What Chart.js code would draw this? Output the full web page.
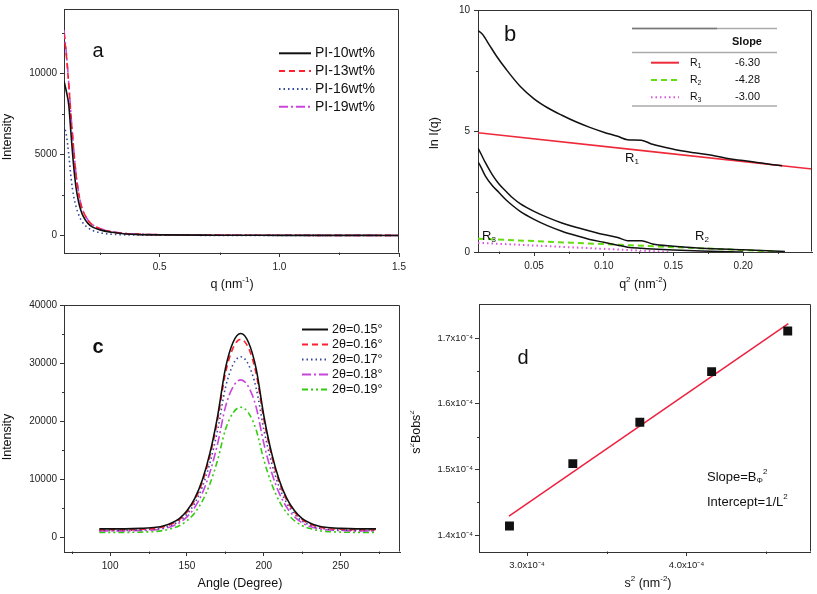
<!DOCTYPE html>
<html>
<head>
<meta charset="utf-8">
<script src="https://cdn.jsdelivr.net/npm/chart.js@4.4.1/dist/chart.umd.min.js"></script>
<style>
  html, body { margin: 0; padding: 0; background: #fff; }
  #fig { position: relative; width: 817px; height: 594px; overflow: hidden; background: #fff; }
  #fig canvas { position: absolute; }
</style>
</head>
<body>
<div id="fig">
  <canvas id="pa" width="410" height="296" style="left:0;top:0"></canvas>
  <canvas id="pb" width="407" height="296" style="left:410px;top:0"></canvas>
  <canvas id="pc" width="410" height="304" style="left:0;top:290px"></canvas>
  <canvas id="pd" width="407" height="304" style="left:410px;top:290px"></canvas>
</div>
<script>
// ═══════════════════════════════════════════════════════════
// Data
// ═══════════════════════════════════════════════════════════

// (a) scattering intensity vs q
const qA   = [0.10, 0.11, 0.12, 0.13, 0.14, 0.15, 0.16, 0.17, 0.18, 0.20, 0.22, 0.25, 0.30, 0.35, 0.40, 0.50, 0.75, 1.00, 1.25, 1.50];
const pi10 = [9550, 8900, 8050, 6150, 4350, 3000, 2150, 1580, 1200, 750, 520, 350, 200, 110, 70, 40, 20, 12, 8, 5];
const pi13 = [12500, 11100, 9300, 7200, 5400, 3800, 2750, 1950, 1500, 950, 650, 420, 230, 130, 85, 50, 25, 15, 10, 6];
const pi16 = [6800, 6200, 5000, 3500, 2450, 1800, 1340, 1000, 760, 480, 310, 170, 80, 45, 30, 20, 10, 8, 5, 3];
const pi19 = [12700, 11250, 9400, 7300, 5450, 3850, 2780, 1980, 1520, 960, 660, 430, 240, 135, 90, 50, 25, 15, 10, 6];
const namesA = ['PI-10wt%', 'PI-13wt%', 'PI-16wt%', 'PI-19wt%'];

// (b) Guinier plot ln I(q) vs q^2
const q2Top = [0.0098, 0.013, 0.018, 0.023, 0.03, 0.04, 0.05, 0.06, 0.07, 0.08, 0.09, 0.10, 0.11, 0.117, 0.127, 0.135, 0.15, 0.165, 0.18, 0.19, 0.20, 0.21, 0.22, 0.228];
const lnTop = [9.15, 9.0, 8.55, 8.1, 7.55, 6.85, 6.33, 5.95, 5.65, 5.38, 5.15, 4.95, 4.78, 4.64, 4.62, 4.45, 4.25, 4.1, 3.97, 3.85, 3.78, 3.7, 3.62, 3.56];
const q2Mid = [0.0098, 0.012, 0.015, 0.02, 0.025, 0.03, 0.035, 0.04, 0.05, 0.06, 0.07, 0.08, 0.09, 0.10, 0.11, 0.117, 0.127, 0.135, 0.15, 0.17, 0.20, 0.23];
const lnMid = [4.29, 4.05, 3.7, 3.2, 2.8, 2.5, 2.22, 2.0, 1.68, 1.42, 1.2, 1.02, 0.87, 0.72, 0.6, 0.47, 0.47, 0.33, 0.24, 0.16, 0.09, 0.02];
const q2Low = [0.0098, 0.012, 0.015, 0.02, 0.025, 0.03, 0.035, 0.04, 0.05, 0.06, 0.07, 0.08, 0.09, 0.10, 0.11, 0.117, 0.127, 0.135, 0.15, 0.17, 0.19, 0.20];
const lnLow = [3.72, 3.5, 3.15, 2.75, 2.45, 2.15, 1.9, 1.68, 1.35, 1.08, 0.86, 0.68, 0.52, 0.4, 0.28, 0.2, 0.15, 0.12, 0.08, 0.04, 0.01, 0];
const fitR1x = [0.0098, 0.2494], fitR1y = [4.93, 3.43];
const fitR2x = [0.0098, 0.231],  fitR2y = [0.55, 0.0];
const fitR3x = [0.0098, 0.147],  fitR3y = [0.38, 0.0];
const slopes = ['-6.30', '-4.28', '-3.00'];

// (c) azimuthal intensity profiles
const angleC = [93, 110, 120, 130, 135, 140, 145, 150, 155, 160, 165, 170, 175, 180, 185, 190, 195, 200, 205, 210, 215, 220, 225, 230, 235, 240, 250, 260, 273];
const th15 = [1450, 1450, 1530, 1720, 1990, 2460, 3230, 4580, 6670, 9860, 14570, 20970, 29040, 33590, 35100, 33590, 29040, 20970, 14570, 9860, 6670, 4580, 3230, 2460, 1990, 1720, 1530, 1450, 1450];
const th16 = [1300, 1300, 1380, 1560, 1830, 2280, 3040, 4350, 6380, 9500, 14090, 20320, 28200, 32620, 34100, 32620, 28200, 20320, 14090, 9500, 6380, 4350, 3040, 2280, 1830, 1560, 1380, 1300, 1300];
const th17 = [1200, 1200, 1280, 1440, 1680, 2100, 2780, 3980, 5830, 8680, 12860, 18540, 25720, 29750, 31100, 29750, 25720, 18540, 12860, 8680, 5830, 3980, 2780, 2100, 1680, 1440, 1280, 1200, 1200];
const th18 = [1100, 1100, 1170, 1310, 1520, 1880, 2480, 3520, 5130, 7600, 11240, 16180, 22420, 25930, 27100, 25930, 22420, 16180, 11240, 7600, 5130, 3520, 2480, 1880, 1520, 1310, 1170, 1100, 1100];
const th19 = [850, 850, 900, 1020, 1200, 1500, 1990, 2850, 4190, 6240, 9250, 13350, 18520, 21430, 22400, 21430, 18520, 13350, 9250, 6240, 4190, 2850, 1990, 1500, 1200, 1020, 900, 850, 850];
const namesC = ['2θ=0.15°', '2θ=0.16°', '2θ=0.17°', '2θ=0.18°', '2θ=0.19°'];

// (d) Williamson-Hall style fit
const s2   = [2.89e-4, 3.287e-4, 3.707e-4, 4.157e-4, 4.634e-4];
const s2B  = [1.414e-4, 1.509e-4, 1.572e-4, 1.649e-4, 1.711e-4];
const fitDx = [2.887e-4, 4.638e-4], fitDy = [1.429e-4, 1.722e-4];

// ═══════════════════════════════════════════════════════════
// Helpers
// ═══════════════════════════════════════════════════════════
const FAM = '"Liberation Sans", Arial, Helvetica, sans-serif';
const INK = '#333';

const DASH  = [6, 4];
const DOT   = [1.5, 3];
const DDOT  = [9, 3, 2, 3];
const DDDOT = [6, 3, 2, 3, 2, 3];

function series(xs, ys, color, dash, width) {
  return {
    data: xs.map((x, i) => ({ x, y: ys[i] })),
    borderColor: color, backgroundColor: color,
    borderDash: dash || [], borderWidth: width || 1.5,
    pointRadius: 0, fill: false, cubicInterpolationMode: 'monotone'
  };
}

function axis(min, max, majors, fmt, size, pad) {
  return {
    type: 'linear', min, max,
    afterBuildTicks: s => { s.ticks = majors.map(v => ({ value: v })); },
    grid: { drawOnChartArea: false, tickLength: 4, color: INK, tickColor: INK, tickWidth: 1 },
    border: { color: INK, width: 1 },
    ticks: { autoSkip: false, maxRotation: 0, color: '#222', padding: pad, font: { family: FAM, size: size || 10 }, callback: fmt }
  };
}

// text with super/subscripts: parts are strings or [text, 1 (sup) | -1 (sub)]
function rich(ctx, parts, x, y, size, o = {}) {
  ctx.save();
  ctx.translate(x, y);
  if (o.rot) ctx.rotate(o.rot);
  ctx.fillStyle = o.color || '#111';
  ctx.textBaseline = 'middle';
  ctx.textAlign = 'left';
  const wt = o.bold ? 'bold ' : '';
  const bits = parts.map(p => typeof p === 'string' ? [p, 0] : p).map(([t, k]) => {
    const fs = k ? Math.round(size * 0.64) : size;
    ctx.font = wt + fs + 'px ' + FAM;
    return { t, k, fs, w: ctx.measureText(t).width };
  });
  const total = bits.reduce((s, b) => s + b.w, 0);
  let cx = o.left ? 0 : -total / 2;
  bits.forEach(b => {
    ctx.font = wt + b.fs + 'px ' + FAM;
    ctx.fillText(b.t, cx, b.k > 0 ? -size * 0.38 : b.k < 0 ? size * 0.3 : 0);
    cx += b.w;
  });
  ctx.restore();
}

function sample(ctx, x1, x2, y, color, dash, width) {
  ctx.save();
  ctx.strokeStyle = color;
  ctx.lineWidth = width || 1.6;
  ctx.setLineDash(dash || []);
  ctx.beginPath(); ctx.moveTo(x1, y); ctx.lineTo(x2, y); ctx.stroke();
  ctx.restore();
}

// frame on top/right + minor ticks + extra text
function deco(minX, minY, draw) {
  return {
    id: 'deco',
    afterDraw(chart) {
      const { ctx, chartArea: a, scales } = chart;
      const L = Math.round(a.left) + 0.5, R = Math.round(a.right) - 0.5;
      const T = Math.round(a.top) + 0.5, B = Math.round(a.bottom) - 0.5;
      ctx.save();
      ctx.strokeStyle = INK; ctx.lineWidth = 1;
      ctx.beginPath();
      ctx.moveTo(L, T); ctx.lineTo(R, T); ctx.lineTo(R, B);
      minX.forEach(v => {
        const px = Math.round(scales.x.getPixelForValue(v)) + 0.5;
        if (px > a.left && px < a.right) { ctx.moveTo(px, B); ctx.lineTo(px, B + 2.5); }
      });
      minY.forEach(v => {
        const py = Math.round(scales.y.getPixelForValue(v)) + 0.5;
        if (py > a.top && py < a.bottom) { ctx.moveTo(L, py); ctx.lineTo(L - 2.5, py); }
      });
      ctx.stroke();
      ctx.restore();
      draw(ctx);
    }
  };
}

function makePanel(id, box, datasets, xAxis, yAxis, plugin) {
  xAxis.afterFit = s => { s.height = box.h - box.bottom; };
  yAxis.afterFit = s => { s.width = box.left; };
  return new Chart(document.getElementById(id), {
    type: 'line',
    data: { datasets },
    options: {
      responsive: false, animation: false, devicePixelRatio: 1,
      layout: { padding: { left: 0, top: box.top, right: box.w - box.right, bottom: 0 } },
      plugins: { legend: { display: false }, tooltip: { enabled: false } },
      scales: { x: xAxis, y: yAxis }
    },
    plugins: [plugin]
  });
}

// ═══════════════════════════════════════════════════════════
// (a)
// ═══════════════════════════════════════════════════════════
const colA = ['#111', '#ff2030', '#34489c', '#cc44dd'];
const dashA = [[], DASH, DOT, DDOT];
makePanel('pa', { w: 410, h: 296, left: 64, top: 5, right: 399, bottom: 253 },
  [pi10, pi13, pi16, pi19].map((ys, i) => series(qA, ys, colA[i], dashA[i], 1.6)),
  axis(0.1, 1.5, [0.5, 1.0, 1.5], v => v.toFixed(1), 10, 4),
  axis(-1080, 14000, [0, 5000, 10000], v => String(v), 10, 3),
  deco([0.25, 0.75, 1.25], [2500, 7500, 12500], ctx => {
    rich(ctx, ['Intensity'], 8, 137, 12.5, { rot: -Math.PI / 2 });
    rich(ctx, ['q (nm', ['-1', 1], ')'], 232, 285, 12.5);
    rich(ctx, ['a'], 98, 51, 20);
    namesA.forEach((n, i) => {
      const y = 53.3 + 17.8 * i;
      sample(ctx, 279, 311, y, colA[i], dashA[i], 2);
      rich(ctx, [n], 315, y, 14, { left: true });
    });
  })
);

// ═══════════════════════════════════════════════════════════
// (b)
// ═══════════════════════════════════════════════════════════
const colB = ['#ee2a3a', '#66dd11', '#dd55dd'];
const dashB = [[], DASH, DOT];
makePanel('pb', { w: 407, h: 296, left: 68, top: 6, right: 402, bottom: 252 },
  [
    series(q2Top, lnTop, '#111', [], 1.5),
    series(q2Mid, lnMid, '#111', [], 1.5),
    series(q2Low, lnLow, '#111', [], 1.5),
    series(fitR1x, fitR1y, colB[0], [], 1.6),
    series(fitR2x, fitR2y, colB[1], DASH, 2),
    series(fitR3x, fitR3y, colB[2], DOT, 2)
  ],
  axis(0.0098, 0.2494, [0.05, 0.10, 0.15, 0.20], v => v.toFixed(2), 10, 4),
  axis(0, 10, [0, 5, 10], v => String(v), 10, 4),
  deco([0.025, 0.075, 0.125, 0.175, 0.225], [2.5, 7.5], ctx => {
    rich(ctx, ['ln I(q)'], 25, 133, 12.5, { rot: -Math.PI / 2 });
    rich(ctx, ['q', ['2', 1], ' (nm', ['-2', 1], ')'], 233, 285, 12.5);
    rich(ctx, ['b'], 100, 35, 22);
    // slope table
    sample(ctx, 222, 367, 28.5, '#aaa', [], 1.5);
    sample(ctx, 222, 307, 28.5, '#777', [], 1.5);
    sample(ctx, 222, 367, 52.5, '#aaa', [], 1.5);
    sample(ctx, 222, 367, 106, '#aaa', [], 1.5);
    rich(ctx, ['Slope'], 337, 41.5, 11, { bold: true });
    slopes.forEach((s, i) => {
      const y = 62.7 + 17.3 * i;
      sample(ctx, 241, 269, y, colB[i], dashB[i], 2);
      rich(ctx, ['R', [String(i + 1), -1]], 280, y, 10.5, { left: true });
      rich(ctx, [s], 325, y, 11, { left: true });
    });
    rich(ctx, ['R', ['1', -1]], 222, 158, 13);
    rich(ctx, ['R', ['2', -1]], 292, 236, 13);
    rich(ctx, ['R', ['3', -1]], 79, 236, 13);
  })
);

// ═══════════════════════════════════════════════════════════
// (c)
// ═══════════════════════════════════════════════════════════
const colC = ['#111', '#ff2030', '#34489c', '#c844dd', '#33cc11'];
const dashC = [[], DASH, DOT, DDOT, DDDOT];
makePanel('pc', { w: 410, h: 304, left: 64, top: 15, right: 400, bottom: 262 },
  [th15, th16, th17, th18, th19].map((ys, i) => series(angleC, ys, colC[i], dashC[i], 1.6)),
  axis(70, 288.6, [100, 150, 200, 250], v => String(v), 10, 4),
  axis(-2530, 40000, [0, 10000, 20000, 30000, 40000], v => String(v), 10, 3),
  deco([75, 125, 175, 225, 275], [5000, 15000, 25000, 35000], ctx => {
    rich(ctx, ['Intensity'], 8, 147, 12.5, { rot: -Math.PI / 2 });
    rich(ctx, ['Angle (Degree)'], 240, 294, 12.5);
    rich(ctx, ['c'], 98, 57, 20, { bold: true });
    namesC.forEach((n, i) => {
      const y = 39.5 + 15 * i;
      sample(ctx, 302, 328, y, colC[i], dashC[i], 2);
      rich(ctx, [n], 332, y, 12.5, { left: true });
    });
  })
);

// ═══════════════════════════════════════════════════════════
// (d)
// ═══════════════════════════════════════════════════════════
makePanel('pd', { w: 407, h: 304, left: 69, top: 14, right: 401, bottom: 262 },
  [
    { data: s2.map((x, i) => ({ x, y: s2B[i] })), showLine: false, pointStyle: 'rect',
      pointRadius: 6.3, backgroundColor: '#111', borderColor: '#111', borderWidth: 0 },
    series(fitDx, fitDy, '#ee2040', [], 1.5)
  ],
  axis(2.699e-4, 4.778e-4, [3.0e-4, 4.0e-4], v => (v * 1e4).toFixed(1) + 'x10⁻⁴', 9.5, 4),
  axis(1.3745e-4, 1.752e-4, [1.4e-4, 1.5e-4, 1.6e-4, 1.7e-4], v => (v * 1e4).toFixed(1) + 'x10⁻⁴', 9.5, 2),
  deco([3.5e-4, 4.5e-4], [1.45e-4, 1.55e-4, 1.65e-4], ctx => {
    rich(ctx, ['s', ['2', 1], 'Bobs', ['2', 1]], 7, 142, 12.5, { rot: -Math.PI / 2 });
    rich(ctx, ['s', ['2', 1], ' (nm', ['-2', 1], ')'], 238, 294, 12.5);
    rich(ctx, ['d'], 113, 68, 20);
    rich(ctx, ['Slope=B', ['Φ', -1], ['2', 1]], 297, 187, 13, { left: true });
    rich(ctx, ['Intercept=1/L', ['2', 1]], 297, 212, 13, { left: true });
  })
);
</script>
</body>
</html>
